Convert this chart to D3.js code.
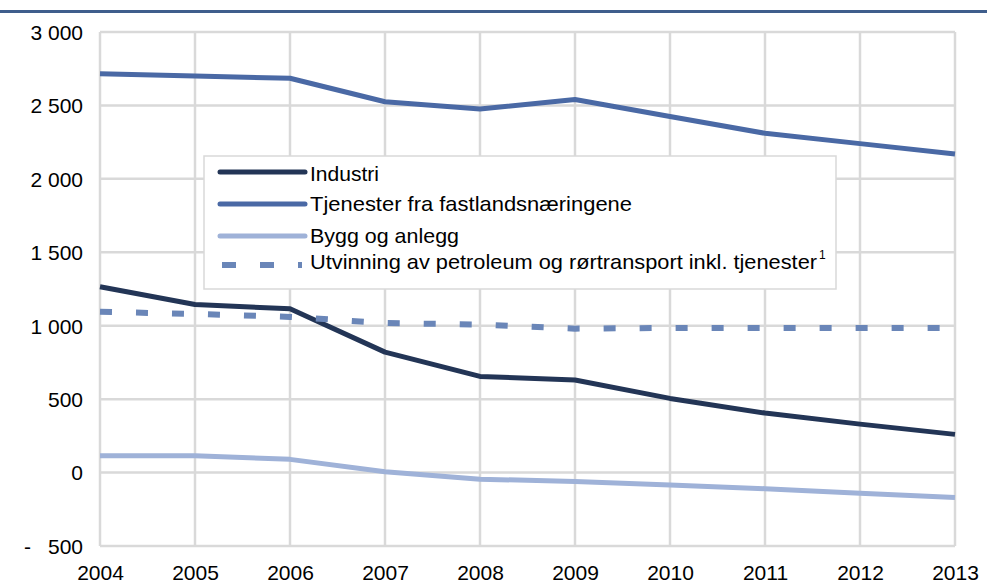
<!doctype html>
<html>
<head>
<meta charset="utf-8"/>
<style>
    body { margin: 0; background: #fff; }
    svg { display: block; }
    text { font-family: "Liberation Sans", Arial, sans-serif; fill: #000; }
</style>
<script src="https://d3js.org/d3.v7.min.js"></script>
</head>
<body>
<svg width="987" height="588"></svg>
<script>

// data
var years = [2004, 2005, 2006, 2007, 2008, 2009, 2010, 2011, 2012, 2013];
var industri   = [1265, 1145, 1115, 820, 655, 630, 505, 405, 330, 260];
var tjenester  = [2715, 2700, 2685, 2525, 2475, 2540, 2425, 2310, 2240, 2170];
var bygg       = [115, 115, 90, 5, -45, -60, -85, -110, -140, -170];
var petroleum  = [1095, 1080, 1060, 1018, 1008, 980, 985, 985, 985, 985];
var yTicks = [-500, 0, 500, 1000, 1500, 2000, 2500, 3000];

var seriesNames = ["Industri", "Tjenester fra fastlandsnæringene", "Bygg og anlegg",
                   "Utvinning av petroleum og rørtransport inkl. tjenester"];

var series = [
    {name: seriesNames[0], values: industri,  color: "#233556", dash: null},
    {name: seriesNames[1], values: tjenester, color: "#4a69a5", dash: null},
    {name: seriesNames[2], values: bygg,      color: "#9fb2d8", dash: null},
    {name: seriesNames[3], values: petroleum, color: "#6a86b8", dash: "12,24"}
];

var svg = d3.select("svg");
var gridColor = "#d9d9d9";

var x = d3.scaleLinear().domain([2004, 2013]).range([100, 955]);
var y = d3.scaleLinear().domain([-500, 3000]).range([546, 32]);

var loc = d3.formatLocale({decimal: ",", thousands: " ", grouping: [3], currency: ["", ""]});
var fmt = loc.format(",d");

// title rule (title itself is cut off at the top)
svg.append("rect").attr("x", 0).attr("y", 10).attr("width", 987).attr("height", 3)
    .attr("fill", "#3f5e8c");

// gridlines
svg.append("g")
    .selectAll("line.h").data(yTicks).join("line")
    .attr("x1", x(2004)).attr("x2", x(2013))
    .attr("y1", d => y(d)).attr("y2", d => y(d))
    .attr("stroke", gridColor).attr("stroke-width", 2.5);

svg.append("g")
    .selectAll("line.v").data(years).join("line")
    .attr("x1", d => x(d)).attr("x2", d => x(d))
    .attr("y1", y(3000)).attr("y2", y(-500))
    .attr("stroke", gridColor).attr("stroke-width", 2.5);

// y axis labels
var yAxis = svg.append("g").attr("transform", "translate(83,0)")
    .call(d3.axisLeft(y).tickValues(yTicks).tickSize(0).tickPadding(0)
        .tickFormat(d => fmt(Math.abs(d))));
yAxis.select(".domain").remove();
yAxis.selectAll("text").attr("font-size", 21).attr("font-family", "Liberation Sans, Arial, sans-serif")
    .attr("dy", "0.35em");
yAxis.selectAll(".tick").filter(d => d < 0).append("text")
    .attr("x", -52).attr("dy", "0.35em").attr("font-size", 21).attr("fill", "#000")
    .attr("text-anchor", "end")
    .text("-");

// x axis labels
var xAxis = svg.append("g").attr("transform", "translate(0," + y(-500) + ")")
    .call(d3.axisBottom(x).tickValues(years).tickSize(0).tickPadding(34).tickFormat(d3.format("d")));
xAxis.select(".domain").remove();
xAxis.selectAll("text").attr("font-size", 21).attr("font-family", "Liberation Sans, Arial, sans-serif")
    .attr("dy", "0");

// lines
var line = d3.line()
    .x(function(d, i) { return x(years[i]); })
    .y(function(d) { return y(d); });

svg.append("g").selectAll("path").data(series).join("path")
    .attr("d", d => line(d.values))
    .attr("fill", "none")
    .attr("stroke", d => d.color)
    .attr("stroke-width", d => d.dash ? 6 : 5)
    .attr("stroke-dasharray", d => d.dash)
    .attr("stroke-linejoin", "round");

// legend
var legend = svg.append("g");
legend.append("rect")
    .attr("x", 204).attr("y", 156).attr("width", 632).attr("height", 133)
    .attr("fill", "#fff").attr("stroke", "#d9d9d9").attr("stroke-width", 1.5);

var legendY = [172, 204, 236, 265];
var textY = [173, 203, 235, 261];
var legendW = [69, 322, 149, 507];

var item = legend.selectAll("g.item").data(series).join("g");

item.append("line")
    .attr("x1", d => d.dash ? 222 : 220).attr("x2", d => d.dash ? 302 : 305)
    .attr("y1", (d, i) => legendY[i]).attr("y2", (d, i) => legendY[i])
    .attr("stroke", d => d.color)
    .attr("stroke-width", d => d.dash ? 6 : 5)
    .attr("stroke-linecap", d => d.dash ? "butt" : "round")
    .attr("stroke-dasharray", d => d.dash ? "14,24" : null);

item.append("text")
    .attr("x", 310).attr("y", (d, i) => textY[i]).attr("dy", "0.36em")
    .attr("font-size", 21)
    .attr("textLength", (d, i) => legendW[i])
    .attr("lengthAdjust", "spacingAndGlyphs")
    .text(d => d.name);

legend.append("text")
    .attr("x", 819).attr("y", 259)
    .attr("font-size", 12)
    .text("1");

</script>
</body>
</html>
